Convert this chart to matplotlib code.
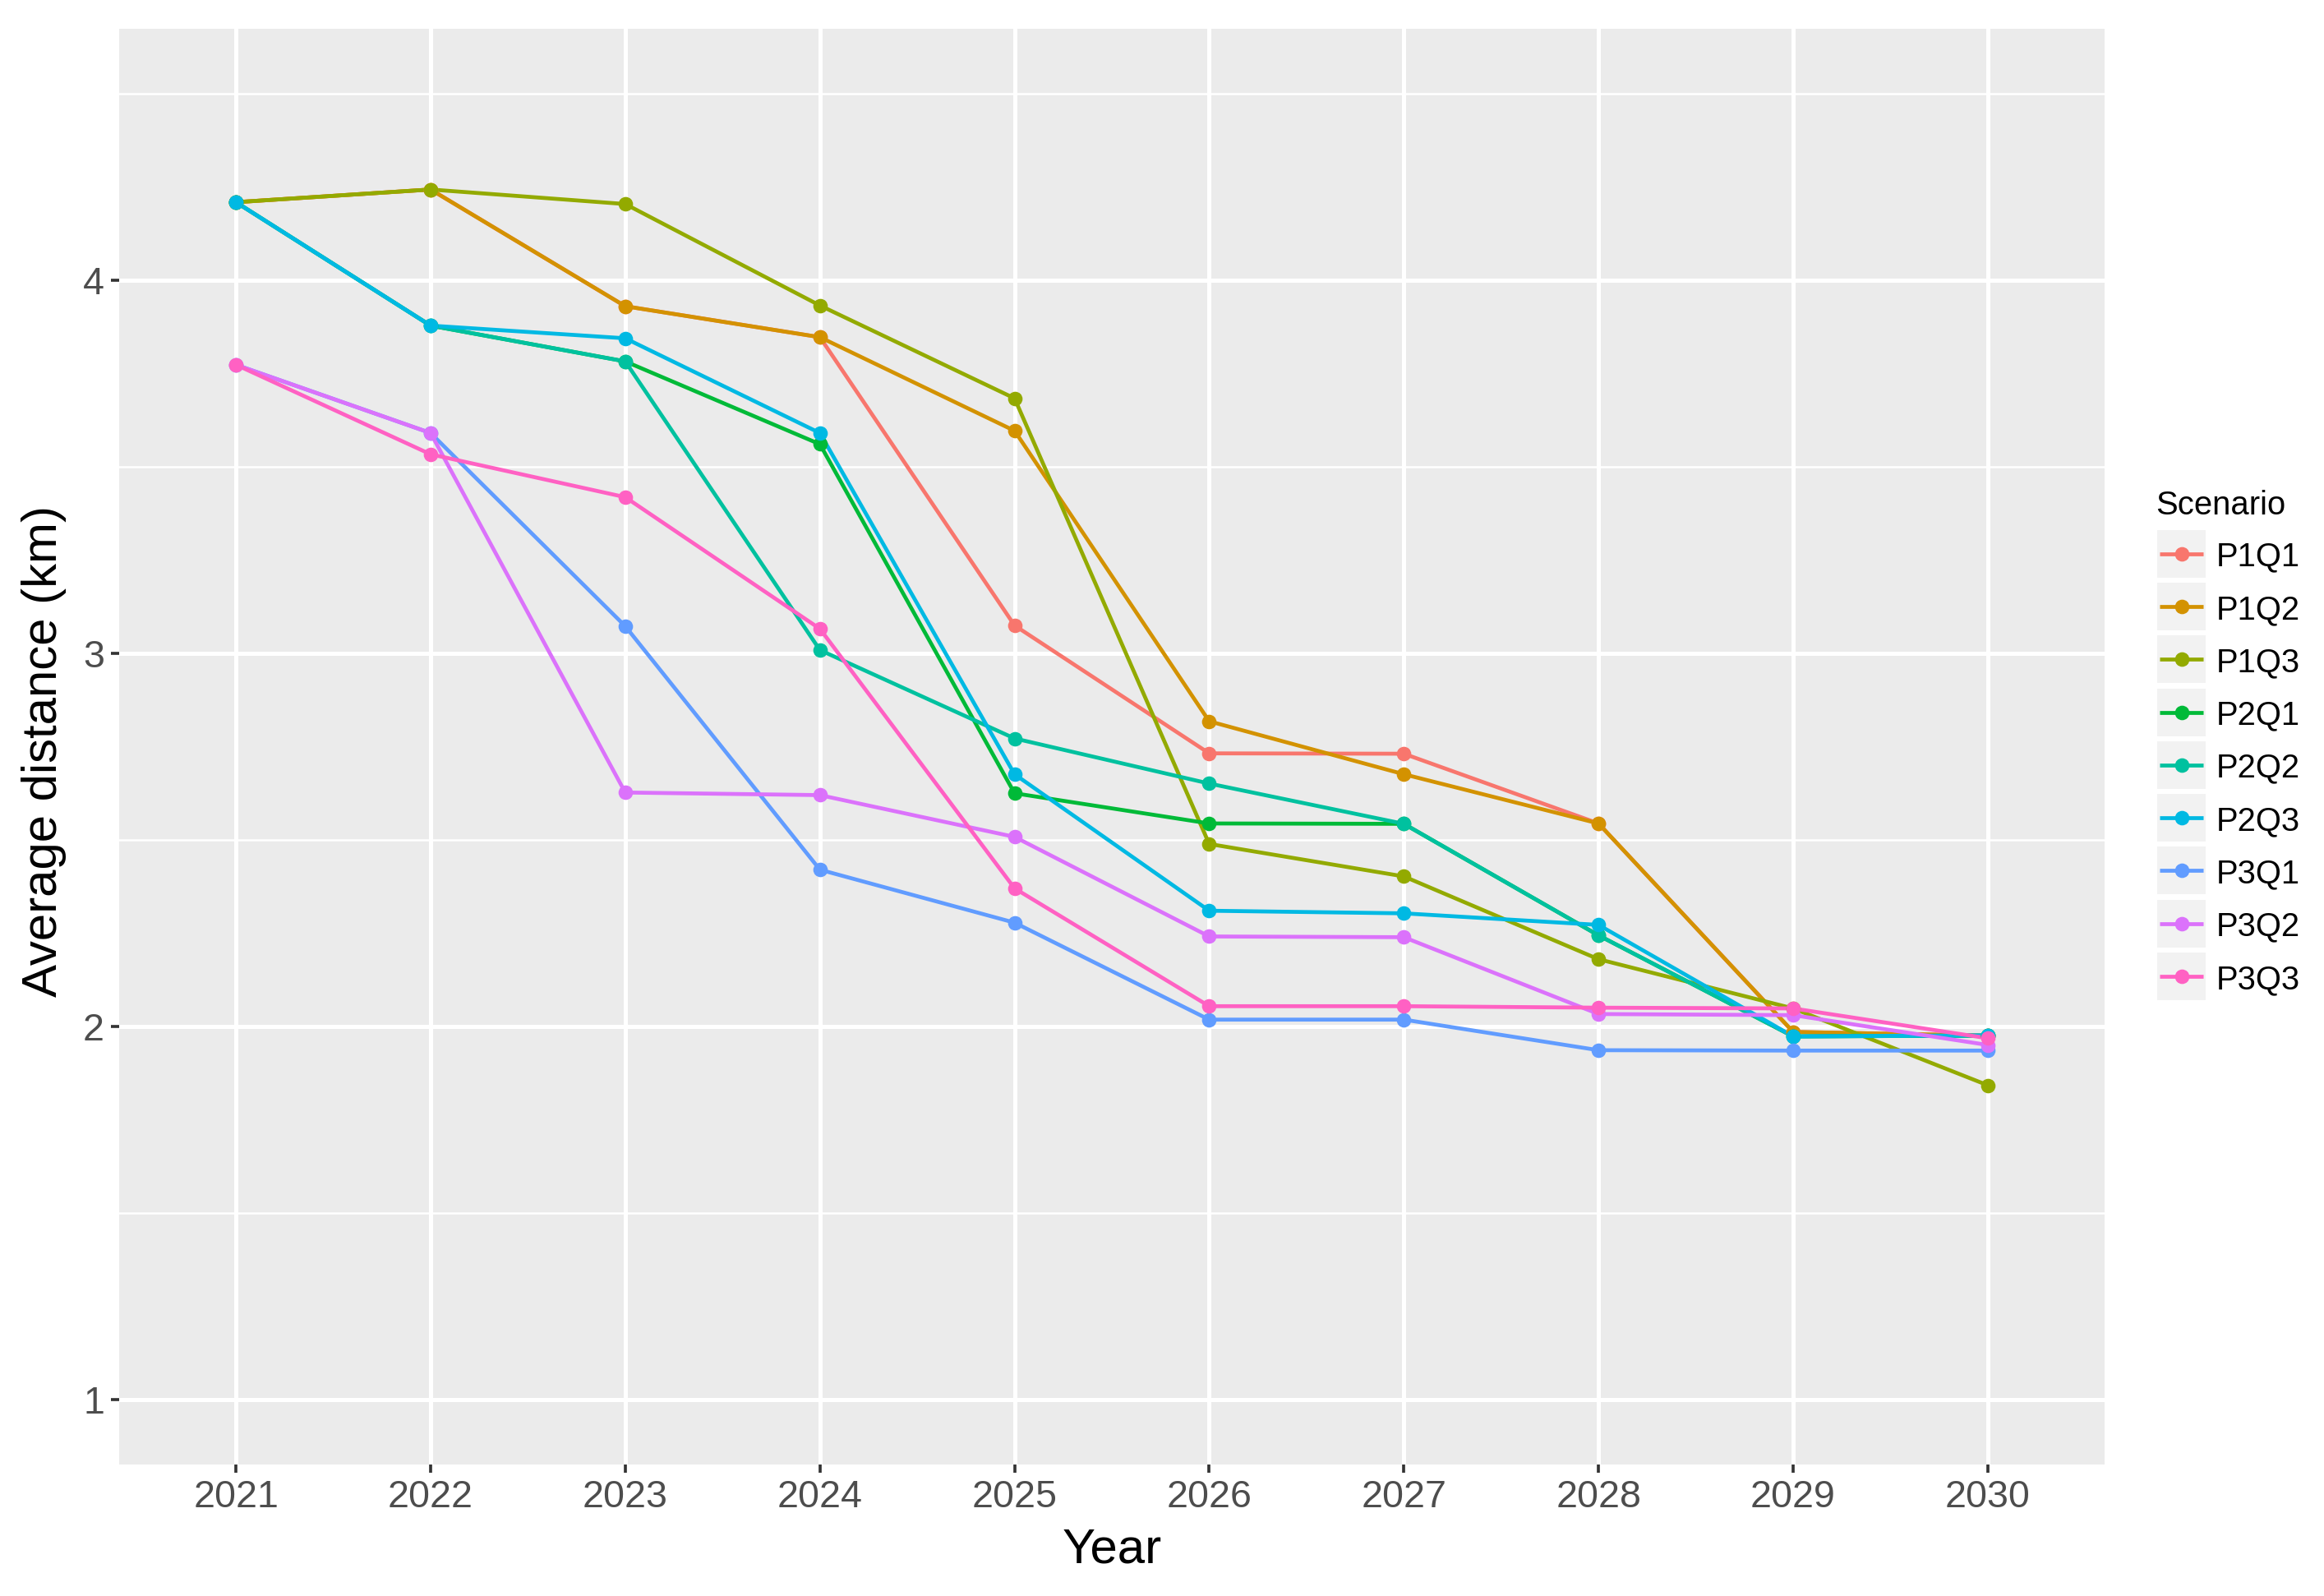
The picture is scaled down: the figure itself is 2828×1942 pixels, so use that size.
import matplotlib
matplotlib.use("Agg")
import matplotlib.pyplot as plt
from matplotlib.patches import Rectangle
from matplotlib.lines import Line2D
import numpy as np

plt.rcParams["font.family"] = ["Liberation Sans", "DejaVu Sans"]

# ── data ─────────────────────────────────────────────────────────────────────
years = ["2021", "2022", "2023", "2024", "2025",
         "2026", "2027", "2028", "2029", "2030"]
scenarios = ["P1Q1", "P1Q2", "P1Q3", "P2Q1", "P2Q2",
             "P2Q3", "P3Q1", "P3Q2", "P3Q3"]
colors = ["#F8766D", "#D39200", "#93AA00", "#00BA38", "#00C19F",
          "#00B9E3", "#619CFF", "#DB72FB", "#FF61C3"]

p1q1 = [4.210, 4.244, 3.931, 3.848, 3.075, 2.732, 2.731, 2.544, 1.985, 1.975]
p1q2 = [4.210, 4.244, 3.931, 3.848, 3.597, 2.818, 2.676, 2.544, 1.985, 1.975]
p1q3 = [4.210, 4.244, 4.205, 3.933, 3.684, 2.489, 2.402, 2.180, 2.048, 1.842]
p2q1 = [4.210, 3.879, 3.783, 3.561, 2.625, 2.544, 2.543, 2.244, 1.973, 1.975]
p2q2 = [4.210, 3.879, 3.783, 3.009, 2.772, 2.651, 2.543, 2.244, 1.973, 1.975]
p2q3 = [4.210, 3.879, 3.845, 3.591, 2.676, 2.310, 2.303, 2.272, 1.973, 1.976]
p3q1 = [3.774, 3.591, 3.073, 2.420, 2.278, 2.018, 2.018, 1.936, 1.935, 1.935]
p3q2 = [3.774, 3.591, 2.627, 2.620, 2.508, 2.241, 2.239, 2.033, 2.030, 1.950]
p3q3 = [3.774, 3.534, 3.419, 3.066, 2.370, 2.054, 2.054, 2.050, 2.048, 1.968]
series = [p1q1, p1q2, p1q3, p2q1, p2q2, p2q3, p3q1, p3q2, p3q3]

W, H, DPI = 2828, 1942, 240
fig = plt.figure(figsize=(W / DPI, H / DPI), dpi=DPI, facecolor="white")

# panel in pixel box: x 145..2561, y 35..1782
px0, px1, py0, py1 = 145, 2561, 35, 1782
ax = fig.add_axes([px0 / W, 1 - py1 / H, (px1 - px0) / W, (py1 - py0) / H])
ax.set_facecolor("#EBEBEB")
for s in ax.spines.values():
    s.set_visible(False)

x = np.arange(len(years))
# ggplot: all lines first, then all points
for vals, col in zip(series, colors):
    ax.plot(x, vals, color=col, lw=1.42, zorder=3, solid_capstyle="butt")
for vals, col in zip(series, colors):
    ax.plot(x, vals, ls="none", marker="o", ms=5.3, mew=0,
            color=col, zorder=4)

ax.set_xlim(-0.6, len(years) - 1 + 0.6)
ax.set_ylim(0.825, 4.675)
ax.set_xticks(x)
ax.set_xticklabels(years)
ax.set_yticks([1, 2, 3, 4])
ax.set_yticks([1.5, 2.5, 3.5, 4.5], minor=True)
ax.grid(which="major", color="white", lw=1.5, zorder=1)
ax.grid(which="minor", axis="y", color="white", lw=0.75, zorder=1)
ax.set_axisbelow(True)
ax.tick_params(which="major", length=3, width=1.1, color="#333333",
               labelsize=14, labelcolor="#4D4D4D", pad=2.4)
ax.tick_params(which="minor", length=0)

fig.text(1353 / W, 1 - 1902 / H, "Year", ha="center", va="baseline",
         fontsize=18, color="black")
fig.text(54 / W, 1 - 914 / H, "Average distance (km)", ha="center",
         va="center", rotation=90, fontsize=18, color="black")

# ── legend (ggplot-style keys) ───────────────────────────────────────────────
lax = fig.add_axes([0, 0, 1, 1])
lax.set_xlim(0, W)
lax.set_ylim(H, 0)
lax.axis("off")
lax.text(2623, 626, "Scenario", ha="left", va="baseline", fontsize=12,
         color="black")
key_x0, key_w, key_h, pitch, top0 = 2625, 59, 58, 64.3, 644.6
for i, (name, col) in enumerate(zip(scenarios, colors)):
    ky = top0 + pitch * i
    lax.add_patch(Rectangle((key_x0, ky), key_w, key_h,
                            facecolor="#F2F2F2", edgecolor="none"))
    cy = ky + key_h / 2
    lax.add_line(Line2D([key_x0 + 3, key_x0 + key_w - 3], [cy, cy],
                        color=col, lw=1.42, solid_capstyle="butt"))
    lax.plot([key_x0 + key_w / 2], [cy], marker="o", ms=5.3, mew=0,
             color=col)
    lax.text(2697, cy, name, ha="left", va="center_baseline", fontsize=12,
             color="black")

fig.savefig("out.png", dpi=DPI, facecolor="white")
